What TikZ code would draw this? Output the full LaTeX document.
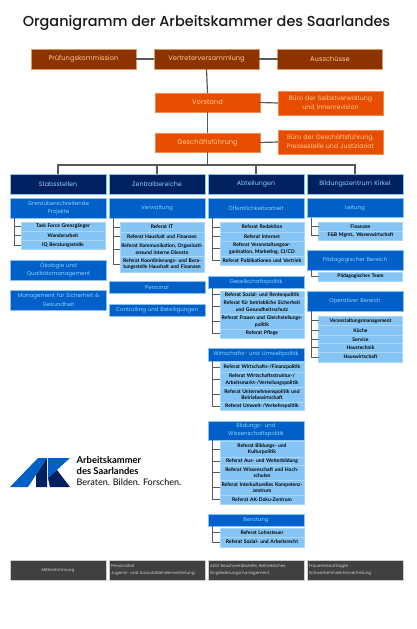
\documentclass[tikz,border=0pt]{standalone}
\usepackage{fontspec}
\setmainfont{Poppins}
\newfontfamily\latof{Lato}
\definecolor{brown1}{HTML}{8C3300}
\definecolor{orange1}{HTML}{E64D00}
\definecolor{navy1}{HTML}{002060}
\definecolor{blue1}{HTML}{0060C8}
\definecolor{sky1}{HTML}{85C5F5}
\definecolor{grey1}{HTML}{404040}
\definecolor{peach}{HTML}{FFC890}
\definecolor{ltxt}{HTML}{8CD0FF}
\definecolor{line1}{HTML}{595959}
\tikzset{
 x=1pt,y=-1pt,
 box/.style={inner sep=0pt,outer sep=0pt,align=center,minimum width=#1,text width=#1-1pt,line width=.6pt},
 box/.default=96pt,
 brownbox/.style={box=105pt,fill=brown1,draw=peach!70!brown1,text=peach,font=\fontsize{6.7}{9}\selectfont},
 orangebox/.style={box=105pt,fill=orange1,draw=peach!50!orange1,text=peach,font=\fontsize{6.3}{8.8}\selectfont},
 navybox/.style={box=96pt,fill=navy1,draw=sky1,text=ltxt,font=\fontsize{6.3}{9}\selectfont},
 bluebox/.style={box=96pt,fill=blue1,draw=sky1,text=ltxt,font=\fontsize{5.5}{8.2}\selectfont},
 subbox/.style={box=84pt,fill=sky1,draw=sky1!70!white,text=black,font=\latof\bfseries\fontsize{5}{6.6}\selectfont},
 greybox/.style={box=96pt,fill=grey1,draw=black!20,text=white!80!black,font=\fontsize{4.15}{6.2}\selectfont},
 conn/.style={draw=line1,line width=1.2pt},
}
% \bx{name}{style}{left}{top}{height}{text}
\newcommand{\bx}[6]{\node[#2,minimum height=#5 pt,anchor=north west] (#1) at (#3,#4) {#6};}
\begin{document}
\begin{tikzpicture}
\useasboundingbox (0,0) rectangle (416,629);
\fill[white] (0,0) rectangle (416,629);
\node[font=\fontsize{14.45}{20}\selectfont\fontspec{Poppins Medium},text=black!90] (title) at (206.5,23) {Organigramm der Arbeitskammer des Saarlandes};
% top
\bx{pk}{brownbox}{31}{49}{20}{Prüfungskommission}
\bx{vv}{brownbox}{154}{49}{20}{Vertreterversammlung}
\bx{au}{brownbox}{277.5}{49}{20}{Ausschüsse}
\bx{vs}{orangebox,font=\fontsize{6.7}{9}\selectfont}{155}{93}{19}{Vorstand}
\bx{bs}{orangebox}{278}{91}{24}{Büro der Selbstverwaltung\\und Innenrevision}
\bx{gf}{orangebox,font=\fontsize{6.7}{9}\selectfont}{155}{133}{19}{Geschäftsführung}
\bx{bg}{orangebox}{278}{130}{24}{Büro der Geschäftsführung,\\Pressestelle und Justiziariat}
% heads
\bx{h1}{navybox}{10}{174}{20}{Stabsstellen}
\bx{h2}{navybox}{109}{174}{20}{Zentralbereiche}
\bx{h3}{navybox}{208}{174}{20}{Abteilungen}
\bx{h4}{navybox}{307}{174}{20}{Bildungszentrum Kirkel}
% col 1
\bx{a1}{bluebox}{10.5}{198}{20}{Grenzüberschreitende\\Projekte}
\bx{a11}{subbox}{21}{222}{9}{Task Force Grenzgänger}
\bx{a12}{subbox}{21}{231}{9.5}{Wanderarbeit}
\bx{a13}{subbox}{21}{240.5}{9}{IQ Beratungsstelle}
\bx{a2}{bluebox}{10.5}{260}{20}{Ökologie und\\Qualitätsmanagement}
\bx{a3}{bluebox}{10.5}{290}{20}{Management für Sicherheit \&\\Gesundheit}
% col 2
\bx{b1}{bluebox}{109}{198}{20}{Verwaltung}
\bx{b11}{subbox}{120}{222}{10}{Referat IT}
\bx{b12}{subbox}{120}{232}{9.5}{Referat Haushalt und Finanzen}
\bx{b13}{subbox}{120}{241.5}{15}{Referat Kommunikation, Organisati-\\onsund interne Dienste}
\bx{b14}{subbox}{120}{256.5}{15.5}{Referat Koordinierungs- und Bera-\\tungsstelle Haushalt und Finanzen}
\bx{b2}{bluebox}{109}{281}{12}{Personal}
\bx{b3}{bluebox}{109}{304}{12}{Controlling und Beteiligungen}
% col 3
\bx{c1}{bluebox}{208}{198}{20}{Öffentlichkeitsarbeit}
\bx{c11}{subbox}{220}{222}{10}{Referat Redaktion}
\bx{c12}{subbox}{220}{232}{9}{Referat Internet}
\bx{c13}{subbox}{220}{241}{15}{Referat Veranstaltungsor-\\ganisation, Marketing, CI/CD}
\bx{c14}{subbox}{220}{256}{9}{Referat Publikationen und Vertrieb}
\bx{c2}{bluebox}{208}{276}{12}{Gesellschaftspolitik}
\bx{c21}{subbox}{220}{291}{7.5}{Referat Sozial- und Rentenpolitik}
\bx{c22}{subbox}{220}{298.5}{15.5}{Referat für betriebliche Sicherheit\\und Gesundheitsschutz}
\bx{c23}{subbox}{220}{314}{15}{Referat Frauen und Gleichstellungs-\\politik}
\bx{c24}{subbox}{220}{329}{9}{Referat Pflege}
\bx{c3}{bluebox}{208}{348}{13}{Wirtschafts- und Umweltpolitik}
\bx{c31}{subbox}{220}{362}{10}{Referat Wirtschafts-/Finanzpolitik}
\bx{c32}{subbox}{220}{372}{15}{Referat Wirtschaftsstruktur-/\\Arbeitsmarkt-/Verteilungspolitik}
\bx{c33}{subbox}{220}{387}{15}{Referat Unternehmenspolitik und\\Betriebswirtschaft}
\bx{c34}{subbox}{220}{402}{8.5}{Referat Umwelt-/Verkehrspolitik}
\bx{c4}{bluebox}{208}{421}{19}{Bildungs- und\\Wissenschaftspolitik}
\bx{c41}{subbox}{220}{441}{16}{Referat Bildungs- und\\Kulturpolitik}
\bx{c42}{subbox}{220}{457}{8}{Referat Aus- und Weiterbildung}
\bx{c43}{subbox}{220}{465}{15}{Referat Wissenschaft und Hoch-\\schulen}
\bx{c44}{subbox}{220}{480}{15}{Referat Interkulturelles Kompetenz-\\zentrum}
\bx{c45}{subbox}{220}{495}{9}{Referat AK-Doku-Zentrum}
\bx{c5}{bluebox}{208}{514}{12}{Beratung}
\bx{c51}{subbox}{220}{528}{9}{Referat Lohnsteuer}
\bx{c52}{subbox}{220}{537}{10}{Referat Sozial- und Arbeitsrecht}
% col 4
\bx{d1}{bluebox}{307}{198}{19.5}{Leitung}
\bx{d11}{subbox}{318.5}{222}{9}{Finanzen}
\bx{d12}{subbox}{318.5}{231}{9}{F\&B Mgmt., Warenwirtschaft}
\bx{d2}{bluebox}{307}{250}{20}{Pädagogischer Bereich}
\bx{d21}{subbox}{318.5}{272}{9}{Pädagogisches Team}
\bx{d3}{bluebox}{307}{291}{20}{Operativer Bereich}
\bx{d31}{subbox}{318.5}{316}{9.5}{Veranstaltungsmanagement}
\bx{d32}{subbox}{318.5}{325.5}{9.5}{Küche}
\bx{d33}{subbox}{318.5}{335}{8.5}{Service}
\bx{d34}{subbox}{318.5}{343.5}{8.5}{Haustechnik}
\bx{d35}{subbox}{318.5}{352}{10}{Hauswirtschaft}
% grey
\bx{g1}{greybox}{10}{560}{20}{Mitbestimmung}
\bx{g2}{greybox,align=left,text width=92pt}{109}{560}{20}{Personalrat\\Jugend- und Auszubildendenvertretung}
\bx{g3}{greybox,align=left,text width=92pt}{208}{560}{20}{AGG Beschwerdestelle, Betriebliches\\Eingliederungsmanagement}
\bx{g4}{greybox,align=left,text width=92pt}{307}{560}{20}{Frauenbeauftragte\\Schwerbehindertenvertretung}
% connectors
\draw[conn] (pk.east) -- (vv.west);
\draw[conn] (vv.east) -- (au.west);
\draw[conn] (vv.south) -- (vs.north);
\draw[conn] (vs.east) -- (bs.west);
\draw[conn] (vs.south) -- (gf.north);
\draw[conn] (gf.east) -- (bg.west);
\coordinate (jn) at (207.5,165);
\draw[conn] (gf.south) -- (jn);
\foreach \h in {h1,h2,h3,h4}{ \draw[conn] (jn) -| (\h.north); }
\newcommand{\brk}[3]{%
 \foreach \c in {#3}{\draw[conn,line width=.9pt] (#1,0 |- #2.south) |- (\c.west);}}
\brk{14}{a1}{a11,a12,a13}
\brk{113}{b1}{b11,b12,b13,b14}
\brk{212.5}{c1}{c11,c12,c13,c14}
\brk{212.5}{c2}{c21,c22,c23,c24}
\brk{212.5}{c3}{c31,c32,c33,c34}
\brk{212.5}{c4}{c41,c42,c43,c44,c45}
\brk{212.5}{c5}{c51,c52}
\brk{311.5}{d1}{d11,d12}
\brk{311.5}{d2}{d21}
\brk{311.5}{d3}{d31,d32,d33,d34,d35}
% logo
\fill[blue1] (10,487) -- (38,458) -- (47,458) -- (28,487) -- cycle;
\fill[navy1] (36,487) -- (36,475) -- (47,458) -- (47,487) -- cycle;
\fill[blue1] (48,458) -- (70,458) -- (48,478) -- cycle;
\fill[navy1] (48,478) -- (57,470) -- (70,487) -- (50,487) -- cycle;
\node[anchor=north west,inner sep=0pt,align=left,font=\latof\fontsize{9}{11}\selectfont] (lg) at (76.5,456.5) {\textbf{\fontsize{9.4}{11}\selectfont Arbeitskammer}\\\textbf{\fontsize{9.4}{11}\selectfont des Saarlandes}\\Beraten. Bilden. Forschen.};
\end{tikzpicture}
\end{document}
